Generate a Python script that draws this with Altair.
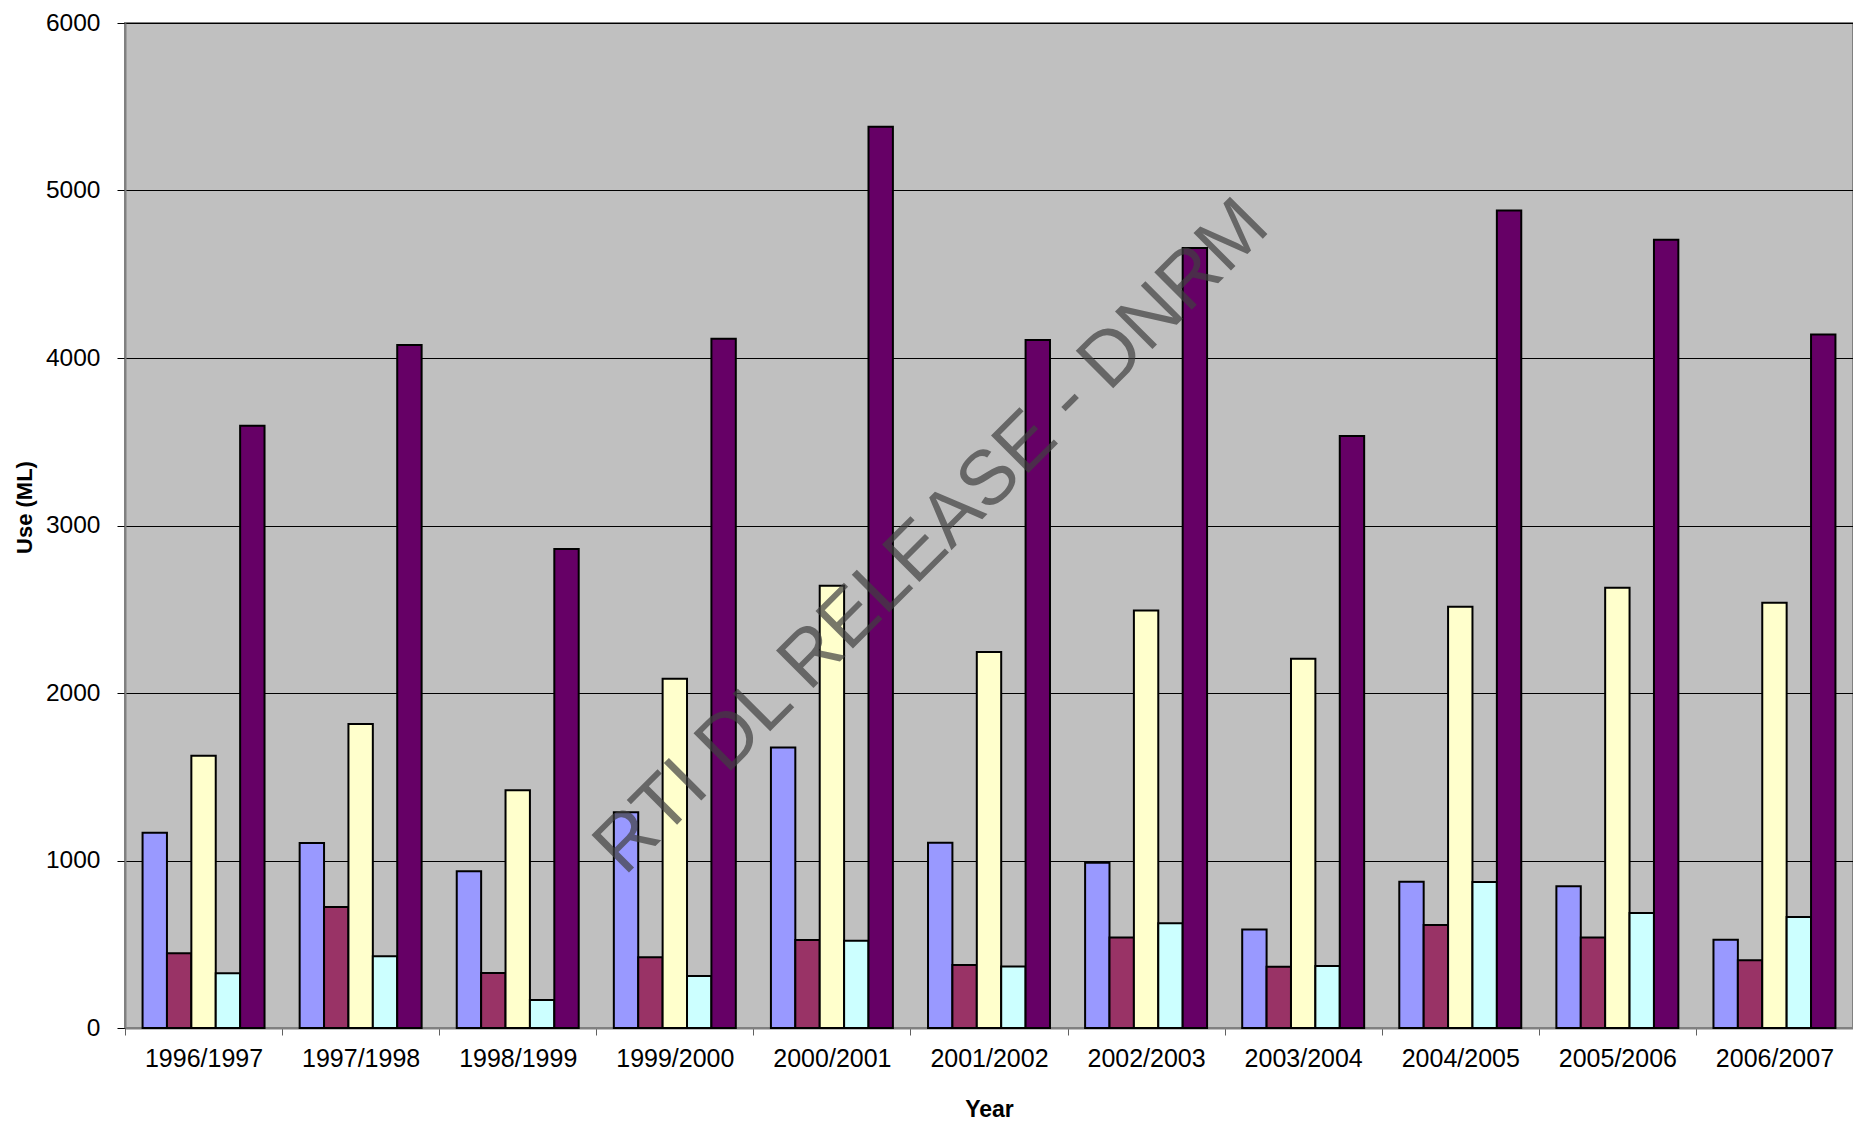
import altair as alt
import pandas as pd

years = ["1996/1997", "1997/1998", "1998/1999", "1999/2000", "2000/2001", "2001/2002",
         "2002/2003", "2003/2004", "2004/2005", "2005/2006", "2006/2007"]
series_names = ["Series 1", "Series 2", "Series 3", "Series 4", "Series 5"]
blue = [1165, 1105, 936, 1288, 1675, 1106, 986, 588, 873, 847, 527]
red = [447, 722, 328, 422, 526, 376, 540, 366, 615, 540, 404]
yellow = [1626, 1815, 1420, 2085, 2641, 2245, 2492, 2204, 2515, 2628, 2539]
cyan = [327, 428, 167, 310, 521, 367, 626, 370, 872, 686, 663]
purple = [3596, 4077, 2860, 4115, 5381, 4108, 4657, 3535, 4881, 4706, 4141]
colors = ["#9999FF", "#993366", "#FFFFCC", "#CCFFFF", "#660066"]
y_ticks = [0, 1000, 2000, 3000, 4000, 5000, 6000]
watermark = "RTI DL RELEASE - DNRM"

rows = []
for name, vals in zip(series_names, [blue, red, yellow, cyan, purple]):
    for yr, v in zip(years, vals):
        rows.append({"Year": yr, "Series": name, "Use": v})
df = pd.DataFrame(rows)

FONT = "Liberation Sans"

bars = alt.Chart(df).mark_bar(stroke="black", strokeWidth=2).encode(
    x=alt.X("Year:N", sort=years,
            scale=alt.Scale(paddingInner=0, paddingOuter=0),
            axis=alt.Axis(title="Year", labelAngle=0, tickBand="extent",
                          domainColor="#808080", domainWidth=2,
                          tickColor="#606060", tickSize=7, tickWidth=1,
                          labelPadding=11, labelFontSize=25, labelFont=FONT,
                          labelColor="black",
                          titleFont=FONT, titleFontSize=23, titleFontWeight="bold",
                          titleColor="black", titleY=88, titleBaseline="alphabetic")),
    xOffset=alt.XOffset("Series:N", sort=series_names,
                        scale=alt.Scale(paddingInner=0, paddingOuter=0.72)),
    y=alt.Y("Use:Q", scale=alt.Scale(domain=[0, 6000], nice=False),
            axis=alt.Axis(values=y_ticks, title="Use (ML)", format="d",
                          domainColor="#808080", domainWidth=2,
                          tickColor="black", tickSize=8, tickWidth=1,
                          labelPadding=17, labelFontSize=24.5, labelFont=FONT,
                          labelColor="black", labelFlush=False,
                          gridColor="black", gridWidth=1, gridOpacity=1,
                          titleFont=FONT, titleFontSize=22, titleFontWeight="bold",
                          titleColor="black", titleX=-101, titleY=484,
                          titleAngle=270, titleAlign="center", titleBaseline="middle")),
    color=alt.Color("Series:N", sort=series_names,
                    scale=alt.Scale(domain=series_names, range=colors), legend=None),
)

wm = alt.Chart(pd.DataFrame({"text": [watermark]})).mark_text(
    angle=315, fontSize=77, font=FONT, color="#404040", opacity=0.7,
    align="center", baseline="middle"
).encode(text="text:N", x=alt.value(807), y=alt.value(514))

chart = alt.layer(bars, wm).properties(
    width=1728, height=1005,
    autosize=alt.AutoSizeParams(type="none"),
    padding={"left": 117, "top": 15, "right": 0, "bottom": 95},
).configure_view(fill="#C0C0C0", stroke="#808080", strokeWidth=2)

chart.save("out.html", embed_options={"renderer": "svg", "actions": False})
